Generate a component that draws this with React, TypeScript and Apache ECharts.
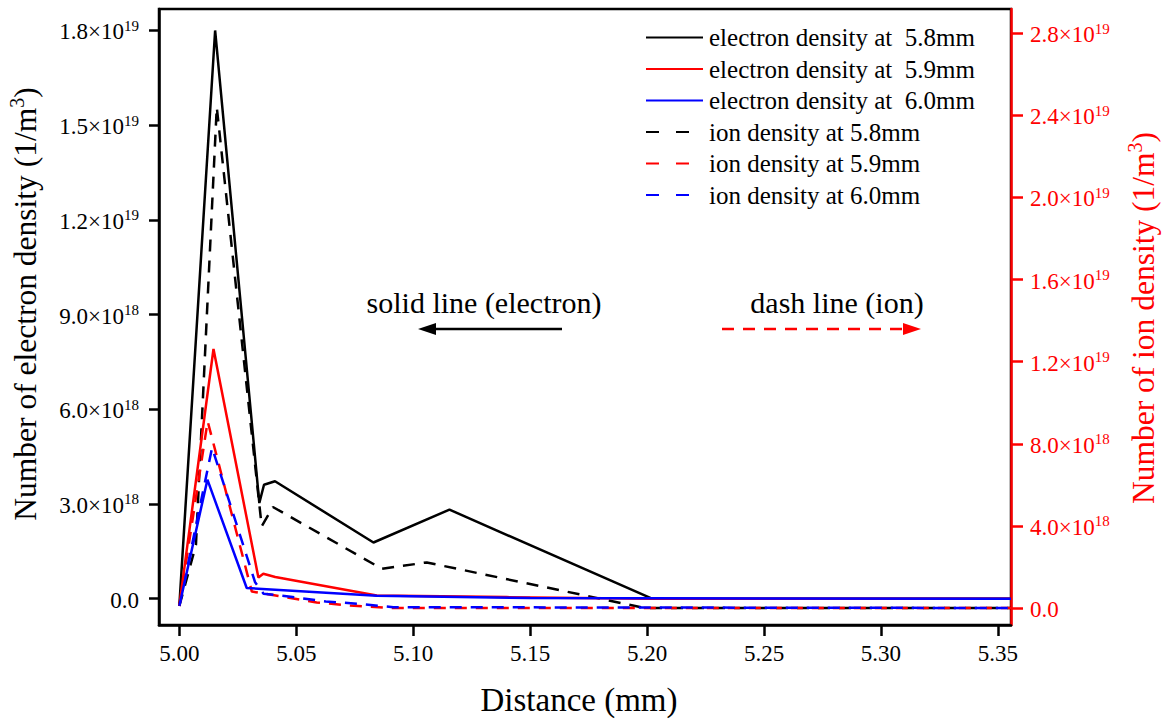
import React, { useEffect, useRef } from "react";
import * as echarts from "echarts";

// ---------- data ----------
// electron densities (left axis, 1/m^3)
const xE58 = [5.0, 5.0153, 5.0342, 5.0362, 5.0409, 5.083, 5.1155, 5.2021, 5.3556];
const yE58 = [-0.22e18, 1.8e19, 3.03e18, 3.61e18, 3.72e18, 1.78e18, 2.82e18, 0, 0];

const xE59 = [5.0, 5.0146, 5.0338, 5.0359, 5.041, 5.0844, 5.14, 5.2021, 5.3556];
const yE59 = [-0.22e18, 7.91e18, 0.67e18, 0.79e18, 0.69e18, 0.1e18, 0.05e18, 0, 0];

const xE60 = [5.0, 5.012, 5.0288, 5.0844, 5.15, 5.3556];
const yE60 = [-0.22e18, 3.77e18, 0.34e18, 0.095e18, 0.02e18, 0];

// ion densities (right axis, 1/m^3)
const xI58 = [5.0, 5.0071, 5.016, 5.0352, 5.04, 5.0866, 5.1058, 5.199, 5.3556];
const yI58 = [0.1e18, 3.08e18, 2.44e19, 3.98e18, 4.92e18, 1.91e18, 2.22e18, 0, 0];

const xI59 = [5.0, 5.0121, 5.031, 5.044, 5.0587, 5.073, 5.0915, 5.3556];
const yI59 = [0.1e18, 9.1e18, 0.8e18, 0.55e18, 0.27e18, 0.12e18, 0, 0];

const xI60 = [5.0, 5.014, 5.0324, 5.036, 5.0476, 5.0626, 5.0769, 5.0915, 5.3556];
const yI60 = [0.1e18, 7.81e18, 1.25e18, 0.7e18, 0.55e18, 0.32e18, 0.2e18, 0.04e18, 0];

const seriesNames = [
  "electron density at  5.8mm",
  "electron density at  5.9mm",
  "electron density at  6.0mm",
  "ion density at 5.8mm",
  "ion density at 5.9mm",
  "ion density at 6.0mm",
];

// ticks
const xTicks = [5.0, 5.05, 5.1, 5.15, 5.2, 5.25, 5.3, 5.35];
const xTickLabels = ["5.00", "5.05", "5.10", "5.15", "5.20", "5.25", "5.30", "5.35"];

const leftTicks = [0, 3e18, 6e18, 9e18, 1.2e19, 1.5e19, 1.8e19];
const leftTickLabels = [
  ["0.0", ""],
  ["3.0×10", "18"],
  ["6.0×10", "18"],
  ["9.0×10", "18"],
  ["1.2×10", "19"],
  ["1.5×10", "19"],
  ["1.8×10", "19"],
];

const rightTicks = [0, 4e18, 8e18, 1.2e19, 1.6e19, 2.0e19, 2.4e19, 2.8e19];
const rightTickLabels = [
  ["0.0", ""],
  ["4.0×10", "18"],
  ["8.0×10", "18"],
  ["1.2×10", "19"],
  ["1.6×10", "19"],
  ["2.0×10", "19"],
  ["2.4×10", "19"],
  ["2.8×10", "19"],
];

const FONT = "'Liberation Serif', 'Times New Roman', serif";

function zip(xs: number[], ys: number[]) {
  return xs.map((x, i) => [x, ys[i]]);
}

function nearestIdx(arr: number[], v: number) {
  let best = 0;
  let bd = Infinity;
  arr.forEach((a, i) => {
    const d = Math.abs(a - v);
    if (d < bd) {
      bd = d;
      best = i;
    }
  });
  return best;
}

function supFormatter(ticks: number[], labels: string[][]) {
  return (v: number) => {
    const [b, s] = labels[nearestIdx(ticks, v)];
    return s ? `{b|${b}}{s|${s}}` : `{b|${b}}`;
  };
}

function supRich(color: string) {
  return {
    b: { fontSize: 23, fontFamily: FONT, color, lineHeight: 26, verticalAlign: "bottom" },
    s: { fontSize: 15, fontFamily: FONT, color, padding: [0, 0, 10, 0], verticalAlign: "bottom" },
  };
}

function titleRich(color: string) {
  return {
    a: { fontSize: 31.5, fontFamily: FONT, fill: color, verticalAlign: "bottom", lineHeight: 36 },
    s: { fontSize: 20, fontFamily: FONT, fill: color, verticalAlign: "bottom", padding: [0, 0, 14, 0] },
  };
}

export default function App() {
  const ref = useRef<HTMLDivElement>(null);

  useEffect(() => {
    if (!ref.current) return;
    const chart = echarts.init(ref.current, null, { renderer: "svg" });

    const colors = ["#000000", "#ff0000", "#0000ff", "#000000", "#ff0000", "#0000ff"];
    const datasets = [
      zip(xE58, yE58),
      zip(xE59, yE59),
      zip(xE60, yE60),
      zip(xI58, yI58),
      zip(xI59, yI59),
      zip(xI60, yI60),
    ];

    const series = datasets.map((d, i) => ({
      name: seriesNames[i],
      type: "line",
      data: d,
      yAxisIndex: i < 3 ? 0 : 1,
      symbol: "none",
      showSymbol: false,
      clip: true,
      lineStyle: {
        color: colors[i],
        width: 2.5,
        type: i < 3 ? "solid" : [12, 9],
      },
      itemStyle: { color: colors[i] },
      z: i < 3 ? 3 : 2,
    }));

    const option: any = {
      animation: false,
      backgroundColor: "#ffffff",
      grid: {
        left: 159,
        right: 154,
        top: 9,
        bottom: 96,
        show: true,
        borderColor: "#000",
        borderWidth: 2.5,
        containLabel: false,
        outerBoundsMode: "none",
      },
      legend: {
        orient: "vertical",
        left: 640,
        top: 20,
        itemWidth: 57,
        itemHeight: 14,
        itemGap: 6.5,
        selectedMode: false,
        itemStyle: { opacity: 0 },
        textStyle: { fontFamily: FONT, fontSize: 25, color: "#000", lineHeight: 25, padding: [0, 0, 0, 1] },
        data: seriesNames.map((n, i) =>
          i < 3 ? { name: n } : { name: n, lineStyle: { type: [13, 17] } }
        ),
      },
      xAxis: {
        type: "value",
        min: 4.9913,
        max: 5.3556,
        splitLine: { show: false },
        axisLine: { show: true, onZero: false, lineStyle: { color: "#000", width: 2.5 } },
        axisTick: {
          show: true,
          inside: false,
          length: 11,
          customValues: xTicks,
          lineStyle: { color: "#000", width: 2.5 },
        },
        axisLabel: {
          customValues: xTicks,
          margin: 17,
          fontSize: 23,
          fontFamily: FONT,
          color: "#000",
          formatter: (v: number) => xTickLabels[nearestIdx(xTicks, v)],
        },
      },
      yAxis: [
        {
          type: "value",
          position: "left",
          min: -0.833e18,
          max: 1.868e19,
          splitLine: { show: false },
          axisLine: { show: true, onZero: false, lineStyle: { color: "#000", width: 2.5 } },
          axisTick: {
            show: true,
            inside: false,
            length: 10,
            customValues: leftTicks,
            lineStyle: { color: "#000", width: 2.5 },
          },
          axisLabel: {
            customValues: leftTicks,
            margin: 20,
            formatter: supFormatter(leftTicks, leftTickLabels),
            rich: supRich("#000"),
          },
        },
        {
          type: "value",
          position: "right",
          min: -0.828e18,
          max: 2.918e19,
          splitLine: { show: false },
          axisLine: { show: true, onZero: false, lineStyle: { color: "#ff0000", width: 2.5 } },
          axisTick: {
            show: true,
            inside: false,
            length: 12,
            customValues: rightTicks,
            lineStyle: { color: "#ff0000", width: 2.5 },
          },
          axisLabel: {
            customValues: rightTicks,
            margin: 19,
            formatter: supFormatter(rightTicks, rightTickLabels),
            rich: supRich("#ff0000"),
          },
        },
      ],
      graphic: [
        {
          type: "text",
          x: 23,
          y: 304,
          rotation: Math.PI / 2,
          style: {
            text: "{a|Number of electron density (1/m}{s|3}{a|)}",
            align: "center",
            verticalAlign: "middle",
            rich: titleRich("#000"),
          },
        },
        {
          type: "text",
          x: 1141,
          y: 318,
          rotation: Math.PI / 2,
          style: {
            text: "{a|Number of ion density (1/m}{s|3}{a|)}",
            align: "center",
            verticalAlign: "middle",
            rich: titleRich("#ff0000"),
          },
        },
        {
          type: "text",
          x: 579,
          y: 700,
          style: {
            text: "Distance (mm)",
            font: `33px ${FONT}`,
            fill: "#000",
            align: "center",
            verticalAlign: "middle",
          },
        },
        {
          type: "text",
          x: 484,
          y: 302,
          style: {
            text: "solid line (electron)",
            font: `30px ${FONT}`,
            fill: "#000",
            align: "center",
            verticalAlign: "middle",
          },
        },
        {
          type: "text",
          x: 837,
          y: 302,
          style: {
            text: "dash line (ion)",
            font: `30px ${FONT}`,
            fill: "#000",
            align: "center",
            verticalAlign: "middle",
          },
        },
        {
          type: "line",
          shape: { x1: 562, y1: 329, x2: 430, y2: 329 },
          style: { stroke: "#000", lineWidth: 2.5 },
        },
        {
          type: "polygon",
          shape: { points: [[418, 329], [436, 323], [436, 335]] },
          style: { fill: "#000" },
        },
        {
          type: "line",
          shape: { x1: 722, y1: 329, x2: 905, y2: 329 },
          style: { stroke: "#ff0000", lineWidth: 2.5, lineDash: [12, 9] },
        },
        {
          type: "polygon",
          shape: { points: [[921, 329], [903, 323], [903, 335]] },
          style: { fill: "#ff0000" },
        },
      ],
      series,
    };

    chart.setOption(option);
    return () => chart.dispose();
  }, []);

  return (
    <div
      ref={ref}
      style={{ position: "fixed", left: 0, top: 0, width: 1165, height: 721, background: "#fff" }}
    />
  );
}
